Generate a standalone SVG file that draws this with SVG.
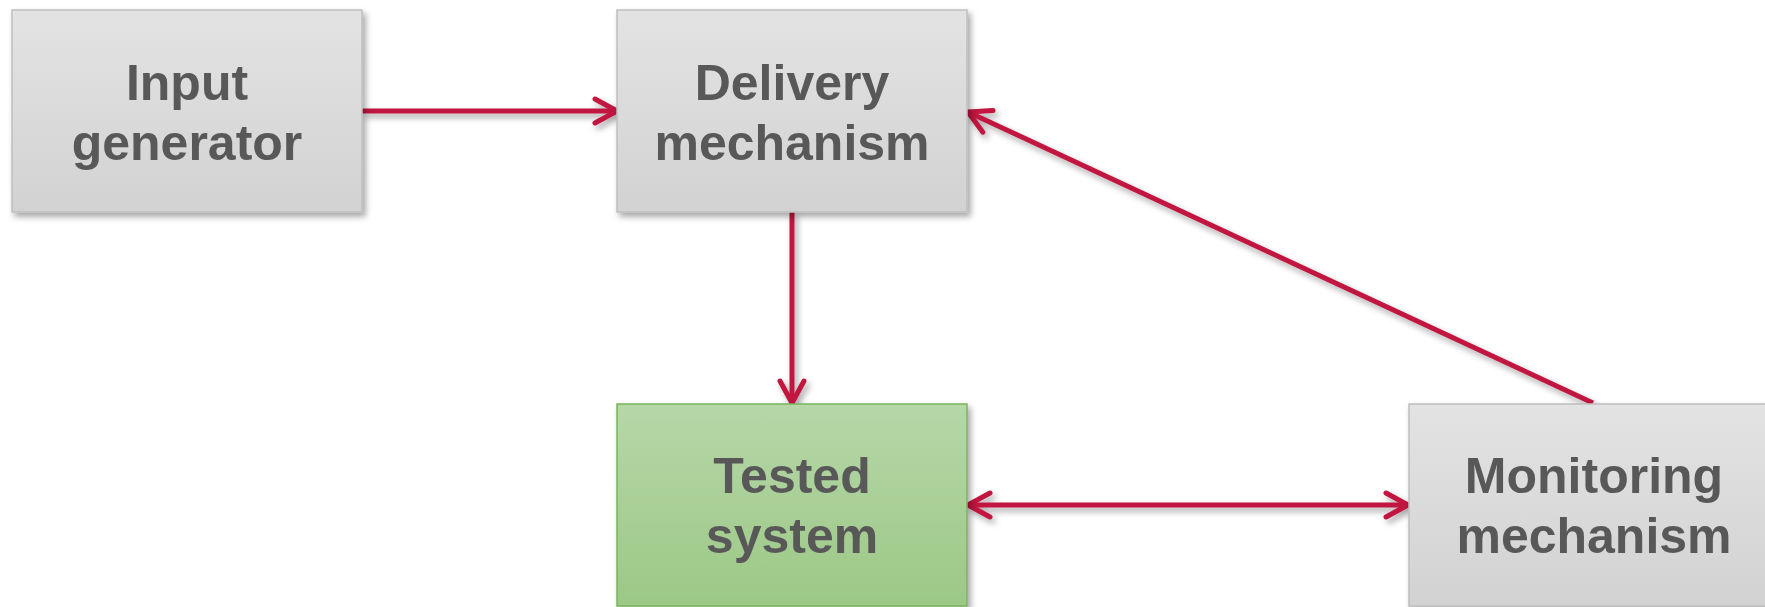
<svg xmlns="http://www.w3.org/2000/svg" width="1765" height="607" viewBox="0 0 1765 607">
  <style>
    .box { stroke-width: 1.5; }
    .grey { fill: url(#gGrey); stroke: #bfbfbf; }
    .green { fill: url(#gGreen); stroke: #7ab55c; }
    .label { font-family: "Liberation Sans", Arial, sans-serif; font-weight: bold; font-size: 50px; fill: #595959; text-anchor: middle; }
    .conn { stroke: #c0153f; stroke-width: 5; fill: none; }
  </style>
  <defs>
    <linearGradient id="gGrey" x1="0" y1="0" x2="0" y2="1">
      <stop offset="0" stop-color="#e3e3e3"/>
      <stop offset="1" stop-color="#d2d2d2"/>
    </linearGradient>
    <linearGradient id="gGreen" x1="0" y1="0" x2="0" y2="1">
      <stop offset="0" stop-color="#b6d7a8"/>
      <stop offset="1" stop-color="#9cc886"/>
    </linearGradient>
    <filter id="shadow" x="-10%" y="-10%" width="130%" height="130%">
      <feDropShadow dx="3" dy="4" stdDeviation="3" flood-color="#000" flood-opacity="0.35"/>
    </filter>
    <marker id="arrow" viewBox="0 0 32 32" refX="27" refY="16" markerWidth="32" markerHeight="32" markerUnits="userSpaceOnUse" orient="auto-start-reverse">
      <path d="M5,4 L27,16 L5,28" fill="none" stroke="#c0153f" stroke-width="5" stroke-linecap="round" stroke-linejoin="round"/>
    </marker>
  </defs>

  <rect width="1765" height="607" fill="#ffffff"/>

  <!-- connectors -->
  <g id="connectors" filter="url(#shadow)">
    <line class="conn" x1="362" y1="111" x2="617" y2="111" marker-end="url(#arrow)"/>
    <line class="conn" x1="792" y1="212" x2="792" y2="403" marker-end="url(#arrow)"/>
    <line class="conn" x1="1593" y1="403" x2="968" y2="112" marker-end="url(#arrow)"/>
    <line class="conn" x1="968" y1="505" x2="1408" y2="505" marker-start="url(#arrow)" marker-end="url(#arrow)"/>
  </g>

  <!-- nodes -->
  <g id="input-generator" filter="url(#shadow)">
    <rect class="box grey" x="12" y="10" width="350" height="202"/>
    <text class="label" x="187" y="100">Input</text>
    <text class="label" x="187" y="160">generator</text>
  </g>

  <g id="delivery-mechanism" filter="url(#shadow)">
    <rect class="box grey" x="617" y="10" width="350" height="202"/>
    <text class="label" x="792" y="100">Delivery</text>
    <text class="label" x="792" y="160">mechanism</text>
  </g>

  <g id="tested-system" filter="url(#shadow)">
    <rect class="box green" x="617" y="404" width="350" height="202"/>
    <text class="label" x="792" y="493">Tested</text>
    <text class="label" x="792" y="553">system</text>
  </g>

  <g id="monitoring-mechanism" filter="url(#shadow)">
    <rect class="box grey" x="1409" y="404" width="372" height="202"/>
    <text class="label" x="1594" y="493">Monitoring</text>
    <text class="label" x="1594" y="553">mechanism</text>
  </g>
</svg>
